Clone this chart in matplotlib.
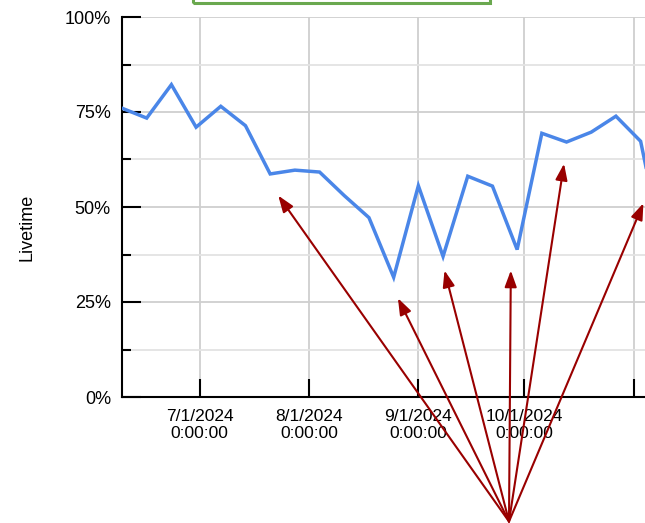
import numpy as np
import pandas as pd
import matplotlib
matplotlib.use('Agg')
from matplotlib import pyplot as plt
from matplotlib import dates as mdates
from matplotlib.patches import Rectangle
from matplotlib.ticker import MultipleLocator, FixedLocator, FixedFormatter

plt.rcParams['font.family'] = ['Liberation Sans', 'DejaVu Sans']

# weekly livetime values, one point per week starting 2024-06-09
weeks = pd.date_range('2024-06-09', periods=23, freq='7D')
livetime = [76.0, 73.4, 82.2, 71.0, 76.5, 71.4, 58.7, 59.7, 59.2, 53.0, 47.2, 31.5,
            55.6, 37.0, 58.1, 55.5, 38.8, 69.4, 67.1, 69.7, 73.9, 67.3, 36.0]

# x ticks (month starts) and their labels
tick_dates = pd.to_datetime(['2024-07-01', '2024-08-01', '2024-09-01', '2024-10-01', '2024-11-01'])
tick_labels = ['7/1/2024\n0:00:00', '8/1/2024\n0:00:00', '9/1/2024\n0:00:00',
               '10/1/2024\n0:00:00', '']
y_ticks = [0, 25, 50, 75, 100]
y_labels = ['0%', '25%', '50%', '75%', '100%']

# where the red annotation arrows point (date, percent)
arrow_dates = pd.to_datetime(['2024-07-23 07:00', '2024-08-26 05:00', '2024-09-08 10:00',
                              '2024-09-27 05:00', '2024-10-12 07:00', '2024-11-03 19:00'])
arrow_pcts = [53.0, 26.0, 33.3, 33.3, 61.4, 51.0]

fig = plt.figure(figsize=(6.45, 5.23), dpi=100)
ax = fig.add_axes([122/645, 126/523, 578.6/645, 380/523])

ax.plot(weeks, livetime, color='#4a86e8', lw=2.5, zorder=3, solid_joinstyle='miter')

ax.set_xlim(mdates.date2num(pd.Timestamp('2024-06-09')), mdates.date2num(pd.Timestamp('2024-11-20')))
ax.set_ylim(0, 100)

ax.xaxis.set_major_locator(FixedLocator(mdates.date2num(tick_dates)))
ax.xaxis.set_major_formatter(FixedFormatter(tick_labels))
ax.yaxis.set_major_locator(FixedLocator(y_ticks))
ax.yaxis.set_major_formatter(FixedFormatter(y_labels))
ax.yaxis.set_minor_locator(MultipleLocator(12.5))

for lab in ax.get_xticklabels():
    lab.set_linespacing(1.17)
    lab.set_fontsize(12.5)
for lab in ax.get_yticklabels():
    lab.set_fontsize(13)

ax.tick_params(axis='y', which='major', direction='in', length=14, width=1.5, pad=8, colors='black')
ax.tick_params(axis='y', which='minor', direction='in', length=6.5, width=1.5)
ax.tick_params(axis='x', which='major', direction='in', length=13, width=1.5, pad=8.5)

ax.spines['top'].set_visible(False)
ax.spines['right'].set_visible(False)
ax.spines['left'].set_linewidth(1.5)
ax.spines['bottom'].set_linewidth(1.5)

ax.set_axisbelow(True)
ax.grid(which='major', color='#cfcfcf', lw=1.3)
ax.grid(which='minor', axis='y', color='#e3e3e3', lw=1.3)

ax.set_ylabel('Livetime', fontsize=13)
ax.yaxis.set_label_coords(-0.164, 0.447)
ax.yaxis.label.set_va('center')

# red arrows fanning out from one point at the bottom
for d, p in zip(arrow_dates, arrow_pcts):
    ax.annotate('', xy=(mdates.date2num(d), p), xycoords='data',
                xytext=(509/645, 1.5/523), textcoords='figure fraction',
                arrowprops=dict(arrowstyle='-|>,head_length=0.55,head_width=0.2',
                                color='#990000', lw=1.5, mutation_scale=18,
                                shrinkA=0, shrinkB=0), zorder=4)

# green box cut off at the top edge
fig.patches.append(Rectangle((193/645, 519.8/523), (490-193)/645, 0.2,
                             transform=fig.transFigure, fill=False,
                             edgecolor='#6aa84f', lw=2.2, clip_on=False))

fig.savefig('out.png', dpi=100)
